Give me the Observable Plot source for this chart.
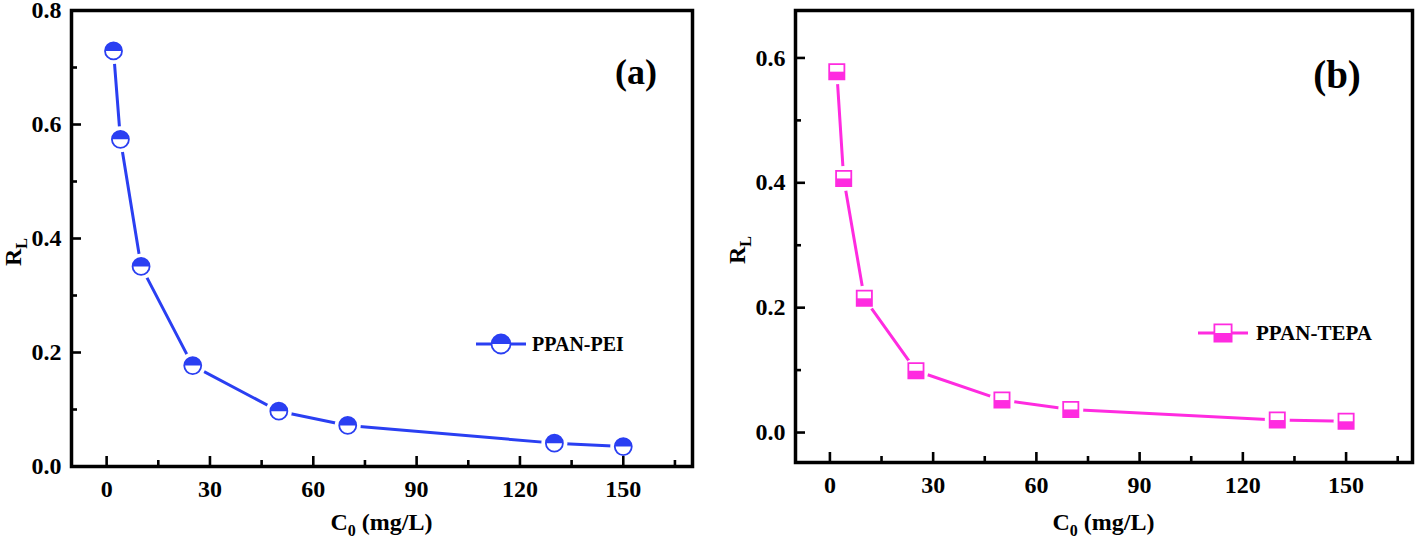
<!DOCTYPE html>
<html><head><meta charset="utf-8">
<script src="https://cdn.jsdelivr.net/npm/d3@7"></script>
<script src="https://cdn.jsdelivr.net/npm/@observablehq/plot@0.6"></script>
<style>
body{margin:0;background:#fff;}
#wrap{display:flex;width:1418px;height:538px;overflow:hidden;}
</style></head><body><div id="wrap"></div>
<script>
// ---- data ----
const c0 = [2, 4, 10, 25, 50, 70, 130, 150];
const rlPEI = [0.729, 0.574, 0.351, 0.177, 0.097, 0.072, 0.041, 0.035];
const rlTEPA = [0.578, 0.407, 0.215, 0.099, 0.052, 0.037, 0.020, 0.018];
const xMajor = [0, 30, 60, 90, 120, 150];
const xMinor = [15, 45, 75, 105, 135, 165];
const yMajorA = [0, 0.2, 0.4, 0.6, 0.8];
const yMinorA = [0.1, 0.3, 0.5, 0.7];
const yMajorB = [0, 0.2, 0.4, 0.6];
const yMinorB = [0.1, 0.3, 0.5];
const nameA = "PPAN-PEI", nameB = "PPAN-TEPA";
const tagA = "(a)", tagB = "(b)";
const xLabelMain = "C", xLabelSub = "0", xLabelRest = " (mg/L)";
const yLabelMain = "R", yLabelSub = "L";

const FONT = "'Liberation Serif', 'Times New Roman', serif";
const BLUE = "#2a3ff2";
const PINK = "#ff2be0";

// ---- symbols ----
const circleSym = {draw(c, s) { const r = Math.sqrt(s / Math.PI); c.moveTo(r, 0); c.arc(0, 0, r, 0, 2 * Math.PI); c.closePath(); }};
const topHalfCircle = {draw(c, s) { const r = Math.sqrt(s / Math.PI); c.moveTo(r, 0); c.arc(0, 0, r, 0, Math.PI, true); c.closePath(); }};
const squareSym = {draw(c, s) { const r = Math.sqrt(s / Math.PI); c.rect(-r, -r, 2 * r, 2 * r); }};
const bottomHalfSquare = {draw(c, s) { const r = Math.sqrt(s / Math.PI); c.rect(-r, 0, 2 * r, r); }};

function symPath(sym, r) { const p = d3.path(); sym.draw(p, Math.PI * r * r); return p.toString(); }

function overlay(cfg) {
  return (index, scales, values, dims) => {
    const {width, height, marginLeft, marginRight, marginTop, marginBottom} = dims;
    const fl = marginLeft, fr = width - marginRight, ft = marginTop, fb = height - marginBottom;
    const g = d3.create("svg:g").attr("font-family", FONT).attr("font-weight", "bold").attr("fill", "black");
    // x label
    const xl = g.append("text").attr("x", (fl + fr) / 2).attr("y", height - 8)
      .attr("text-anchor", "middle").attr("font-size", 24);
    xl.append("tspan").text(xLabelMain);
    xl.append("tspan").attr("font-size", 16).attr("dy", 6).text(xLabelSub);
    xl.append("tspan").attr("dy", -6).text(xLabelRest);
    // y label
    const yl = g.append("text")
      .attr("transform", `translate(${fl - 50},${(ft + fb) / 2 + 14}) rotate(-90)`)
      .attr("text-anchor", "middle").attr("font-size", 24);
    yl.append("tspan").text(yLabelMain);
    yl.append("tspan").attr("font-size", 16).attr("dy", 6).text(yLabelSub);
    // panel tag
    g.append("text").attr("x", fr - cfg.tagDx).attr("y", cfg.tagY)
      .attr("text-anchor", "middle").attr("font-size", cfg.tagSize).text(cfg.tag);
    // legend
    const cx = fl + cfg.legDx, cy = ft + cfg.legDy;
    g.append("line").attr("x1", cx - 25).attr("x2", cx + 25).attr("y1", cy).attr("y2", cy)
      .attr("stroke", cfg.color).attr("stroke-width", 3);
    g.append("path").attr("transform", `translate(${cx},${cy})`).attr("d", symPath(cfg.full, cfg.r + 1))
      .attr("fill", "white").attr("stroke", cfg.color).attr("stroke-width", 1.8);
    g.append("path").attr("transform", `translate(${cx},${cy})`).attr("d", symPath(cfg.half, cfg.r + 1))
      .attr("fill", cfg.color);
    g.append("text").attr("x", cx + cfg.legTextDx).attr("y", cy + 7)
      .attr("text-anchor", "start").attr("font-size", cfg.legSize).text(cfg.name);
    return g.node();
  };
}

function panel(cfg) {
  const rows = c0.map((x, i) => ({x, y: cfg.values[i]}));
  const innerH = cfg.height - cfg.mt - cfg.mb;
  const innerW = cfg.width - cfg.ml - cfg.mr;
  return Plot.plot({
    width: cfg.width, height: cfg.height,
    marginLeft: cfg.ml, marginRight: cfg.mr, marginTop: cfg.mt, marginBottom: cfg.mb,
    x: {domain: cfg.xDomain, label: null},
    y: {domain: cfg.yDomain, label: null},
    style: {fontFamily: FONT, fontWeight: "bold", background: "white", color: "black", fontSize: "24px", overflow: "visible"},
    marks: [
      Plot.line(rows, {x: "x", y: "y", stroke: cfg.color, strokeWidth: 3}),
      Plot.dot(rows, {x: "x", y: "y", r: cfg.halo, fill: "white", symbol: circleSym}),
      Plot.dot(rows, {x: "x", y: "y", r: cfg.r, fill: "white", stroke: cfg.color, strokeWidth: 1.8, symbol: cfg.full}),
      Plot.dot(rows, {x: "x", y: "y", r: cfg.r, fill: cfg.color, symbol: cfg.half}),
      Plot.ruleX(xMajor, {x: d => d, insetTop: innerH - 10, strokeWidth: 2.6}),
      Plot.ruleX(xMinor, {x: d => d, insetTop: innerH - 6, strokeWidth: 2.6}),
      Plot.ruleY(cfg.yMajor, {y: d => d, insetRight: innerW - 10, strokeWidth: 2.6}),
      Plot.ruleY(cfg.yMinor, {y: d => d, insetRight: innerW - 6, strokeWidth: 2.6}),
      Plot.frame({strokeWidth: 3.5}),
      Plot.axisX(xMajor, {tickSize: 0, tickPadding: 13, fontSize: 24, fontWeight: "bold", tickFormat: d3.format("d"), label: null}),
      Plot.axisY(cfg.yMajor, {tickSize: 0, tickPadding: 10, fontSize: 24, fontWeight: "bold", tickFormat: d3.format(".1f"), label: null}),
      overlay(cfg)
    ]
  });
}

const wrap = document.getElementById("wrap");
wrap.append(panel({
  values: rlPEI, color: BLUE, full: circleSym, half: topHalfCircle, r: 8.5, halo: 13,
  width: 709, height: 538, ml: 71, mr: 17, mt: 10, mb: 72,
  xDomain: [-10.2, 170.1], yDomain: [0, 0.8], yMajor: yMajorA, yMinor: yMinorA,
  tag: tagA, tagDx: 56, tagY: 84, tagSize: 36,
  name: nameA, legDx: 430, legDy: 334, legTextDx: 31, legSize: 20
}));
wrap.append(panel({
  values: rlTEPA, color: PINK, full: squareSym, half: bottomHalfSquare, r: 7.6, halo: 12.5,
  width: 709, height: 538, ml: 86, mr: 6, mt: 10, mb: 76,
  xDomain: [-10, 169.3], yDomain: [-0.048, 0.676], yMajor: yMajorB, yMinor: yMinorB,
  tag: tagB, tagDx: 75, tagY: 88, tagSize: 39,
  name: nameB, legDx: 428, legDy: 323, legTextDx: 33, legSize: 21
}));
</script>
</body></html>
